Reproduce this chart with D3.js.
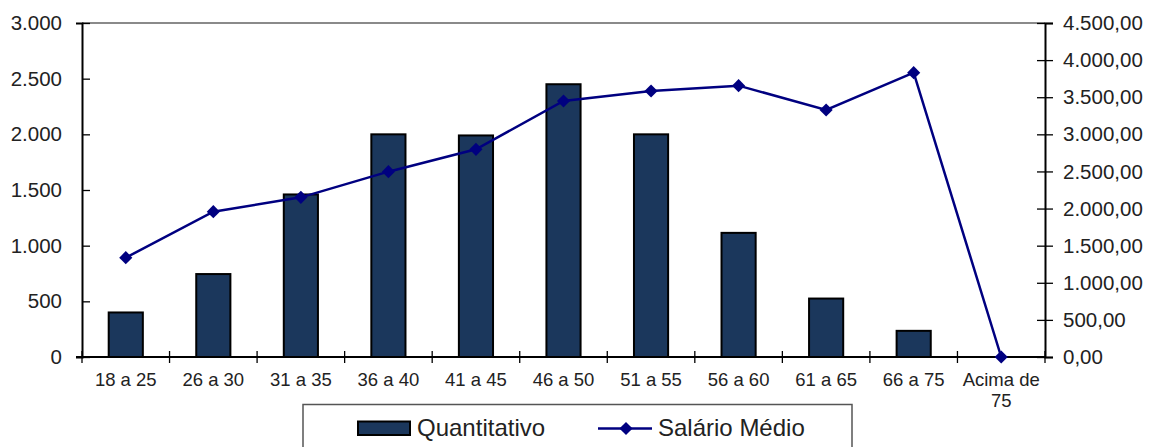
<!DOCTYPE html>
<html>
<head>
<meta charset="utf-8">
<script src="https://cdn.jsdelivr.net/npm/d3@7/dist/d3.min.js"></script>
<style>
  body { margin: 0; background: #fff; }
  text { font-family: "Liberation Sans", Arial, sans-serif; fill: #222; }
</style>
</head>
<body>
<svg id="chart" width="1150" height="447"></svg>
<script>
// faixas etárias
var categories = ['18 a 25', '26 a 30', '31 a 35', '36 a 40', '41 a 45', '46 a 50',
                  '51 a 55', '56 a 60', '61 a 65', '66 a 75', 'Acima de 75'];
var quantitativo = [400, 745, 1460, 2000, 1990, 2450, 2000, 1115, 525, 235, 0];
var salarioMedio = [1338, 1958, 2151, 2497, 2798, 3449, 3584, 3656, 3328, 3831, 0];
var leftTicks = [0, 500, 1000, 1500, 2000, 2500, 3000];
var rightTicks = [0, 500, 1000, 1500, 2000, 2500, 3000, 3500, 4000, 4500];
var seriesNames = ['Quantitativo', 'Salário Médio'];

var svg = d3.select('#chart'),
    pLeft = 82, pRight = 1045, pTop = 23, pBottom = 357;

var br = d3.formatLocale({ decimal: ',', thousands: '.', grouping: [3], currency: ['R$', ''] });

var x = d3.scaleBand().domain(categories).range([pLeft, pRight]).padding(0);
var y = d3.scaleLinear().domain([0, 3000]).range([pBottom, pTop]);
var y2 = d3.scaleLinear().domain([0, 4500]).range([pBottom, pTop]);

// borda superior cinza
svg.append('line')
    .attr('x1', pLeft).attr('x2', pRight)
    .attr('y1', pTop).attr('y2', pTop)
    .attr('stroke', '#8a8a8a').attr('stroke-width', 2);

// barras
var barW = x.bandwidth() * 0.39;
svg.append('g')
    .selectAll('rect')
    .data(quantitativo)
    .enter()
    .append('rect')
    .attr('x', (d, i) => x(categories[i]) + x.bandwidth() / 2 - barW / 2)
    .attr('y', d => y(d))
    .attr('width', barW)
    .attr('height', d => pBottom - y(d))
    .attr('fill', '#1b375c')
    .attr('stroke', '#000')
    .attr('stroke-width', d => d > 0 ? 2 : 0);

// eixo esquerdo
var gl = svg.append('g')
    .attr('transform', 'translate(' + pLeft + ',0)')
    .call(d3.axisLeft(y).tickValues(leftTicks).tickFormat(br.format(',.0f')).tickSizeOuter(0).tickSize(6).tickPadding(14));
gl.selectAll('.tick line').attr('x2', 8);

// eixo direito
var gr = svg.append('g')
    .attr('transform', 'translate(' + pRight + ',0)')
    .call(d3.axisRight(y2).tickValues(rightTicks).tickFormat(br.format(',.2f')).tickSizeOuter(0).tickSize(8).tickPadding(10));
gr.selectAll('.tick line').attr('x2', 8).attr('x1', -8);

// eixo x
var ticksX = categories.map(c => x(c)).concat([pRight]);
var gx = svg.append('g');
gx.append('line')
    .attr('x1', pLeft - 6).attr('x2', pRight)
    .attr('y1', pBottom).attr('y2', pBottom)
    .attr('stroke', '#000').attr('stroke-width', 2);
gx.selectAll('line.t')
    .data(ticksX)
    .enter()
    .append('line')
    .attr('class', 't')
    .attr('x1', d => d).attr('x2', d => d)
    .attr('y1', pBottom - 6).attr('y2', pBottom + 6)
    .attr('stroke', '#000').attr('stroke-width', 1.3);

[gl, gr].forEach(g => {
    g.select('.domain').attr('stroke', '#000').attr('stroke-width', 2);
    g.selectAll('.tick line').attr('stroke', '#000').attr('stroke-width', 1.3);
    g.selectAll('.tick text').style('font-size', '20.5px').attr('fill', '#222')
        .style('font-family', '"Liberation Sans", Arial, sans-serif');
});

gx.selectAll('text.lab')
    .data(categories)
    .enter()
    .append('text')
    .attr('class', 'lab')
    .attr('text-anchor', 'middle')
    .attr('x', d => x(d) + x.bandwidth() / 2)
    .attr('y', 386)
    .style('font-size', '18.5px')
    .each(function (d) {
        var t = d3.select(this);
        if (d === 'Acima de 75') {
            t.append('tspan').attr('x', x(d) + x.bandwidth() / 2).text('Acima de');
            t.append('tspan').attr('x', x(d) + x.bandwidth() / 2).attr('dy', 21).text('75');
        } else {
            t.text(d);
        }
    });

// linha salário médio
var cx = (d, i) => x(categories[i]) + x.bandwidth() / 2;
svg.append('path')
    .datum(salarioMedio)
    .attr('fill', 'none')
    .attr('stroke', '#000080')
    .attr('stroke-width', 2.5)
    .attr('d', d3.line().x(cx).y(d => y2(d)));

var diamond = d3.symbol().type(d3.symbolDiamond2).size(110);
svg.append('g')
    .selectAll('path')
    .data(salarioMedio)
    .enter()
    .append('path')
    .attr('transform', (d, i) => 'translate(' + cx(d, i) + ',' + y2(d) + ')')
    .attr('d', diamond)
    .attr('fill', '#000080');

// legenda
var lg = svg.append('g');
lg.append('rect')
    .attr('x', 303).attr('y', 404.5)
    .attr('width', 549).attr('height', 60)
    .attr('fill', '#fff').attr('stroke', '#555').attr('stroke-width', 1.5);
lg.append('rect')
    .attr('x', 358).attr('y', 421.5).attr('width', 52).attr('height', 13.5)
    .attr('fill', '#1b375c').attr('stroke', '#000').attr('stroke-width', 2);
lg.append('text').attr('x', 417).attr('y', 436).style('font-size', '24px').text(seriesNames[0]);
lg.append('line')
    .attr('x1', 598).attr('x2', 652).attr('y1', 428.5).attr('y2', 428.5)
    .attr('stroke', '#000080').attr('stroke-width', 2.5);
lg.append('path')
    .attr('transform', 'translate(626,428.5)')
    .attr('d', diamond)
    .attr('fill', '#000080');
lg.append('text').attr('x', 658).attr('y', 436).style('font-size', '24px').text(seriesNames[1]);
</script>
</body>
</html>
